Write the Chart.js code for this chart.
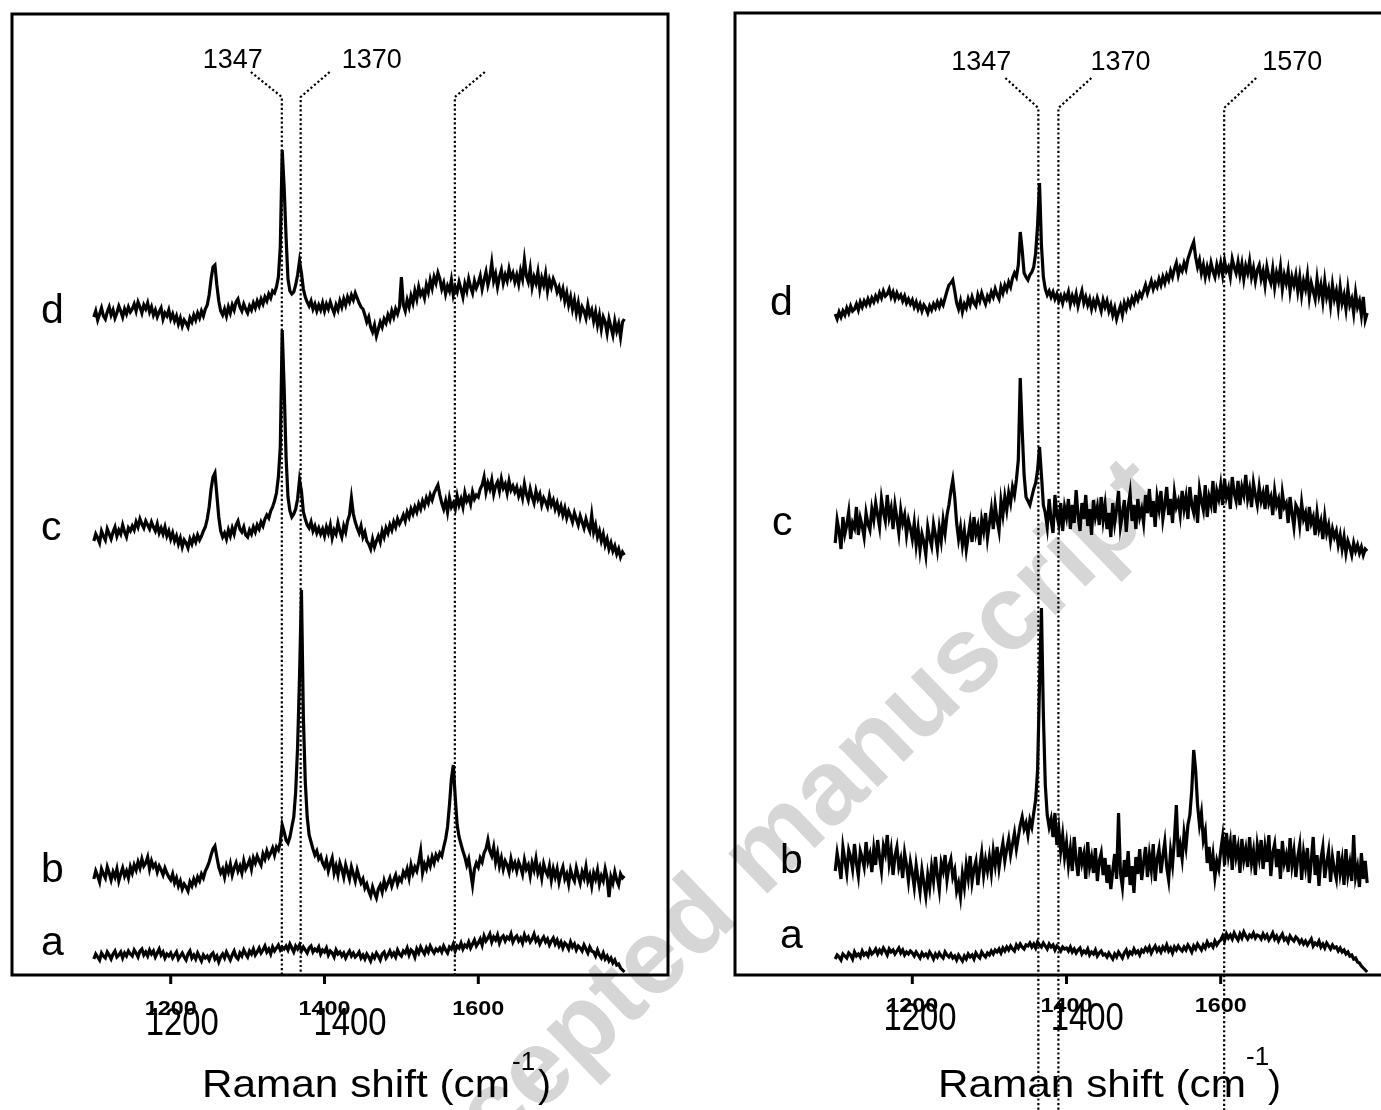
<!DOCTYPE html>
<html>
<head>
<meta charset="utf-8">
<script src="https://cdn.jsdelivr.net/npm/chart.js@4.4.1/dist/chart.umd.min.js"></script>
<style>
    body { margin: 0; background: #fff; overflow: hidden; }
    #wrap { position: relative; width: 1381px; height: 1110px; overflow: hidden; }
    #mark {
        position: absolute; left: 760px; top: 850px;
        transform: translate(-50%, -50%) rotate(-44deg);
        font: bold 106px "Liberation Sans", Arial, sans-serif;
        color: #d6d6d6; white-space: nowrap;
    }
    canvas { position: absolute; top: 0; }
</style>
</head>
<body>
<div id="wrap">
    <div id="mark">Accepted manuscript</div>
    <canvas id="leftChart" width="690" height="1110" style="left:0"></canvas>
    <canvas id="rightChart" width="700" height="1110" style="left:700px"></canvas>
</div>
<script>
// wavenumber grid (cm-1), one reading every 2.5 cm-1, rows below hold 50 cm-1 each
const shift = Array.from({ length: 277 }, (_, i) => 1100 + 2.5 * i);

// left panel, offset spectra (plot units)
const leftA = [
    18, 23, 20, 17, 24, 21, 19, 25, 22, 18, 23, 26, 20, 22, 25, 19, 24, 21, 26, 23,
    21, 27, 24, 20, 26, 28, 22, 25, 21, 27, 23, 26, 20, 24, 28, 22, 25, 19, 23, 21,
    24, 19, 22, 25, 18, 21, 24, 20, 17, 23, 26, 19, 22, 18, 24, 20, 16, 22, 19, 21,
    17, 22, 24, 18, 21, 15, 20, 23, 19, 25, 21, 17, 22, 26, 20, 18, 24, 21, 27, 23,
    20, 26, 23, 28, 22, 25, 29, 24, 27, 31, 25, 28, 23, 30, 26, 29, 32, 27, 30, 28,
    31, 27, 33, 29, 25, 31, 28, 32, 26, 30, 27, 24, 29, 31, 25, 28, 26, 30, 23, 27,
    25, 29, 22, 26, 24, 20, 27, 23, 25, 21, 24, 19, 23, 26, 21, 24, 20, 22, 25, 19,
    22, 18, 23, 20, 16, 22, 19, 24, 21, 17, 23, 25, 19, 22, 26, 21, 24, 20, 27, 23,
    21, 26, 24, 29, 22, 27, 25, 20, 28, 24, 30, 26, 23, 29, 25, 31, 27, 24, 28, 26,
    29, 25, 31, 27, 24, 30, 28, 33, 26, 31, 29, 34, 28, 32, 30, 35, 29, 33, 37, 31,
    34, 38, 32, 41, 36, 39, 43, 35, 40, 37, 42, 34, 39, 41, 36, 40, 38, 43, 35, 39,
    41, 36, 39, 34, 42, 37, 40, 35, 38, 43, 36, 39, 33, 37, 40, 35, 38, 32, 36, 39,
    33, 37, 31, 35, 29, 34, 32, 28, 35, 30, 33, 27, 31, 29, 26, 32, 28, 24, 30, 26,
    25, 21, 27, 22, 19, 24, 18, 21, 16, 19, 14, 17, 12, 13, 9, 7, 5];
const leftB = [
    98, 106, 101, 95, 108, 103, 99, 110, 104, 97, 105, 100, 108, 96, 103, 109, 101, 106, 99, 110,
    104, 112, 107, 115, 109, 118, 111, 114, 120, 108, 116, 110, 113, 105, 111, 107, 102, 109, 104, 100,
    97, 103, 94, 99, 91, 96, 88, 93, 90, 86, 95, 91, 98, 93, 100, 96, 103, 99, 106, 110,
    115, 122, 128, 131, 120, 110, 104, 108, 100, 111, 105, 113, 102, 109, 114, 106, 111, 104, 116, 108,
    112, 117, 108, 119, 114, 121, 116, 112, 123, 118, 126, 120, 124, 129, 122, 130, 127, 135, 152, 145,
    137, 134, 140, 150, 160, 185, 230, 300, 387, 260, 195, 160, 142, 135, 128, 122, 126, 118, 121, 114,
    110, 117, 106, 113, 119, 104, 111, 102, 114, 108, 100, 112, 105, 98, 110, 103, 96, 107, 100, 94,
    98, 89, 93, 86, 81, 90, 84, 79, 88, 92, 85, 96, 89, 94, 99, 91, 97, 102, 93, 99,
    96, 105, 101, 108, 99, 112, 104, 110, 106, 115, 126, 104, 113, 108, 117, 111, 120, 114, 122, 118,
    124, 121, 130, 138, 150, 172, 198, 212, 180, 152, 140, 133, 126, 120, 112, 118, 105, 92, 108, 114,
    110, 119, 115, 124, 128, 137, 126, 121, 130, 115, 124, 111, 119, 108, 116, 112, 105, 118, 109, 114,
    106, 115, 110, 103, 117, 108, 112, 101, 114, 107, 118, 104, 110, 99, 113, 106, 102, 111, 97, 108,
    100, 108, 95, 104, 110, 98, 103, 93, 107, 100, 96, 109, 101, 94, 105, 99, 110, 96, 102, 91,
    104, 98, 107, 93, 101, 96, 108, 99, 80, 100, 94, 105, 97, 92, 103, 99, 101];
const leftC = [
    436, 443, 439, 434, 446, 441, 437, 448, 443, 438, 445, 450, 441, 447, 443, 452, 445, 440, 449, 446,
    451, 447, 455, 450, 458, 453, 449, 456, 452, 448, 455, 450, 446, 453, 444, 449, 443, 450, 441, 446,
    438, 444, 436, 441, 433, 439, 430, 437, 434, 429, 438, 433, 440, 435, 442, 437, 441, 446, 450, 458,
    470, 488, 500, 504, 482, 460, 446, 440, 444, 438, 447, 441, 449, 443, 452, 456, 448, 445, 450, 442,
    440, 447, 443, 450, 445, 452, 448, 455, 451, 458, 462, 459, 466, 470, 476, 484, 500, 530, 647, 590,
    520, 480, 466, 460, 463, 468, 478, 497, 486, 465, 458, 452, 449, 455, 446, 451, 444, 449, 443, 448,
    441, 450, 444, 452, 439, 447, 443, 454, 446, 440, 451, 445, 456, 462, 479, 463, 455, 449, 444, 451,
    440, 445, 436, 433, 428, 438, 430, 436, 441, 435, 446, 440, 449, 444, 452, 447, 455, 450, 458, 453,
    457, 462, 456, 465, 460, 468, 463, 470, 465, 473, 468, 476, 471, 479, 474, 482, 477, 484, 488, 492,
    482, 474, 468, 476, 465, 479, 470, 474, 468, 481, 472, 478, 470, 484, 476, 480, 473, 485, 478, 482,
    480, 488, 492, 500, 485, 494, 488, 497, 483, 491, 495, 486, 498, 489, 493, 484, 496, 487, 491, 485,
    490, 481, 487, 479, 493, 483, 477, 488, 480, 474, 486, 478, 483, 472, 479, 475, 470, 481, 472, 477,
    468, 474, 465, 471, 462, 469, 459, 466, 461, 455, 464, 458, 452, 461, 455, 449, 458, 451, 446, 462,
    445, 452, 440, 446, 436, 443, 432, 438, 428, 434, 426, 431, 423, 428, 420, 425, 422];
const leftD = [
    660, 666, 657, 663, 669, 661, 658, 665, 670, 662, 667, 659, 664, 671, 666, 660, 668, 663, 670, 665,
    668, 673, 666, 675, 670, 664, 672, 668, 674, 665, 670, 662, 667, 660, 665, 669, 658, 664, 661, 667,
    658, 663, 656, 661, 653, 659, 651, 657, 654, 650, 659, 655, 662, 657, 664, 659, 666, 661, 668, 672,
    682, 698, 710, 712, 692, 676, 666, 662, 668, 661, 670, 664, 672, 667, 675, 678, 670, 666, 673, 668,
    664, 671, 667, 674, 669, 676, 671, 678, 673, 680, 676, 683, 679, 686, 684, 690, 700, 730, 827, 790,
    740, 698, 686, 683, 685, 692, 702, 716, 704, 688, 680, 675, 671, 676, 668, 673, 666, 672, 667, 674,
    666, 673, 668, 675, 669, 664, 672, 667, 676, 670, 678, 672, 680, 675, 682, 677, 684, 679, 674, 670,
    668, 662, 655, 660, 650, 645, 652, 641, 648, 655, 650, 658, 654, 662, 657, 666, 660, 668, 663, 670,
    700, 672, 666, 677, 670, 681, 674, 686, 678, 690, 682, 686, 679, 692, 685, 697, 689, 700, 694, 704,
    698, 688, 694, 683, 691, 686, 697, 682, 690, 685, 695, 688, 680, 693, 686, 698, 690, 684, 696, 689,
    694, 701, 688, 697, 705, 692, 700, 714, 696, 703, 690, 700, 707, 694, 702, 696, 708, 699, 704, 695,
    702, 693, 706, 698, 717, 701, 695, 708, 690, 700, 694, 705, 688, 699, 692, 703, 686, 697, 690, 698,
    693, 685, 690, 681, 688, 676, 684, 672, 680, 668, 677, 664, 674, 661, 670, 666, 659, 672, 662, 667,
    656, 665, 652, 662, 648, 660, 655, 644, 658, 650, 642, 656, 646, 653, 640, 655, 658];

// right panel, offset spectra (plot units)
const rightA = [
    16, 20, 18, 15, 21, 19, 17, 22, 20, 16, 23, 19, 21, 18, 24, 20, 22, 19, 25, 21,
    23, 26, 21, 25, 22, 27, 24, 20, 26, 23, 25, 21, 24, 27, 22, 25, 20, 23, 21, 24,
    22, 19, 23, 20, 17, 22, 19, 21, 18, 23, 20, 16, 21, 18, 22, 19, 17, 23, 20, 18,
    21, 17, 19, 15, 20, 17, 14, 19, 16, 21, 18, 20, 16, 22, 19, 17, 23, 20, 18, 22,
    20, 24, 21, 25, 23, 26, 22, 27, 24, 28, 25, 29, 26, 24, 30, 27, 31, 28, 26, 30,
    29, 32, 28, 31, 27, 33, 30, 28, 32, 29, 26, 31, 28, 30, 25, 29, 27, 24, 28, 26,
    27, 24, 28, 23, 26, 22, 25, 27, 21, 24, 22, 26, 20, 23, 21, 25, 19, 22, 24, 20,
    21, 18, 22, 19, 16, 21, 18, 23, 20, 17, 22, 25, 19, 23, 21, 26, 22, 24, 20, 25,
    23, 27, 24, 28, 22, 26, 29, 24, 27, 23, 28, 25, 30, 24, 27, 22, 28, 25, 29, 26,
    24, 28, 25, 30, 27, 23, 29, 26, 31, 28, 25, 30, 27, 33, 29, 31, 28, 34, 30, 33,
    35, 39, 34, 41, 37, 40, 36, 42, 38, 35, 41, 37, 43, 39, 36, 40, 38, 42, 37, 40,
    39, 36, 41, 37, 40, 35, 38, 42, 36, 39, 34, 38, 41, 35, 37, 33, 39, 36, 34, 38,
    36, 32, 35, 31, 34, 30, 33, 36, 29, 32, 30, 34, 28, 31, 27, 32, 29, 26, 30, 27,
    28, 24, 27, 23, 25, 21, 23, 19, 20, 16, 17, 13, 12, 9, 7, 5, 3];
const rightB = [
    104, 122, 110, 96, 128, 115, 102, 125, 118, 106, 131, 112, 99, 124, 117, 108, 133, 114, 121, 103,
    126, 110, 135, 118, 104, 129, 121, 140, 112, 125, 100, 119, 128, 108, 116, 97, 122, 110, 94, 113,
    102, 88, 110, 96, 83, 105, 92, 79, 100, 87, 108, 94, 118, 99, 85, 112, 104, 120, 95, 109,
    116, 98, 105, 84, 92, 78, 101, 88, 110, 97, 119, 93, 106, 114, 90, 108, 122, 100, 115, 104,
    118, 102, 124, 110, 128, 107, 121, 132, 114, 126, 136, 120, 131, 142, 126, 138, 150, 158, 146, 152,
    140, 155, 148, 162, 175, 205, 290, 367, 260, 190, 160, 148, 156, 138, 162, 130, 146, 124, 140, 118,
    132, 110, 126, 104, 138, 115, 99, 128, 112, 121, 96, 133, 108, 118, 102, 127, 94, 114, 122, 100,
    117, 92, 110, 86, 104, 121, 96, 162, 102, 88, 115, 98, 124, 90, 109, 82, 118, 101, 126, 95,
    112, 128, 98, 120, 105, 131, 94, 116, 126, 102, 119, 133, 108, 95, 124, 110, 136, 170, 118, 130,
    116, 142, 128, 150, 160, 185, 225, 205, 170, 150, 162, 135, 144, 112, 128, 104, 120, 98, 114, 106,
    124, 138, 110, 142, 120, 133, 105, 140, 118, 128, 102, 136, 115, 126, 108, 138, 112, 124, 100, 130,
    117, 135, 106, 128, 113, 140, 99, 122, 131, 108, 126, 96, 134, 112, 120, 103, 137, 110, 124, 98,
    118, 130, 95, 122, 108, 127, 92, 114, 138, 100, 120, 89, 116, 128, 97, 112, 124, 93, 118, 105,
    96, 124, 102, 115, 90, 126, 100, 112, 94, 140, 98, 108, 88, 122, 96, 114, 92];
const rightC = [
    432, 455, 444, 426, 458, 441, 450, 463, 436, 452, 447, 468, 440, 457, 449, 438, 462, 451, 445, 466,
    455, 472, 460, 448, 476, 463, 454, 480, 458, 467, 446, 470, 457, 442, 465, 452, 460, 440, 455, 447,
    436, 452, 430, 446, 425, 441, 433, 420, 448, 437, 429, 451, 440, 426, 447, 434, 455, 442, 460, 470,
    484, 495, 478, 452, 436, 448, 430, 444, 425, 439, 452, 433, 458, 441, 449, 430, 455, 444, 462, 437,
    452, 466, 446, 470, 455, 444, 474, 460, 478, 465, 482, 472, 488, 480, 495, 515, 597, 545, 500, 478,
    474, 470, 478, 486, 492, 505, 528, 500, 470, 462, 448, 476, 455, 442, 480, 460, 450, 472, 444, 468,
    458, 476, 446, 470, 452, 485, 460, 444, 472, 456, 480, 449, 466, 440, 475, 458, 468, 450, 478, 455,
    470, 446, 462, 438, 472, 452, 466, 484, 448, 460, 475, 443, 468, 482, 454, 470, 446, 476, 458, 466,
    452, 480, 462, 486, 458, 474, 448, 478, 466, 484, 456, 470, 488, 460, 476, 452, 482, 468, 474, 460,
    484, 466, 478, 456, 488, 470, 462, 480, 452, 486, 474, 465, 490, 458, 478, 470, 494, 462, 484, 476,
    490, 470, 496, 478, 486, 466, 498, 482, 474, 494, 470, 488, 480, 500, 476, 486, 468, 492, 480, 470,
    488, 474, 482, 466, 490, 472, 478, 460, 484, 470, 476, 456, 482, 468, 472, 452, 478, 462, 448, 470,
    466, 450, 472, 456, 462, 444, 468, 452, 458, 440, 462, 446, 454, 436, 458, 442, 450, 434, 446, 438,
    444, 430, 440, 426, 438, 422, 434, 428, 420, 432, 424, 430, 422, 428, 420, 426, 424];
const rightD = [
    661, 656, 663, 658, 664, 660, 667, 662, 669, 664, 666, 671, 665, 673, 668, 674, 670, 676, 671, 677,
    673, 679, 675, 682, 677, 684, 679, 681, 686, 678, 683, 676, 682, 677, 680, 674, 679, 672, 676, 671,
    675, 668, 673, 666, 671, 664, 670, 667, 662, 669, 665, 671, 667, 673, 668, 674, 670, 677, 684, 690,
    692, 695, 684, 672, 666, 674, 663, 671, 667, 676, 670, 678, 672, 669, 680, 674, 682, 676, 671, 679,
    675, 683, 678, 686, 680, 676, 688, 682, 690, 685, 693, 688, 697, 702, 698, 710, 743, 725, 702, 698,
    695, 700, 703, 708, 722, 750, 792, 730, 698, 686, 680, 684, 678, 683, 676, 681, 674, 679, 672, 680,
    676, 683, 671, 679, 673, 681, 669, 677, 684, 672, 678, 670, 676, 666, 674, 668, 677, 671, 664, 675,
    668, 674, 664, 670, 660, 667, 656, 663, 669, 660, 672, 666, 674, 669, 677, 672, 680, 675, 682, 678,
    684, 690, 682, 688, 694, 686, 692, 688, 696, 690, 698, 692, 700, 695, 704, 698, 706, 712, 700, 708,
    704, 712, 706, 716, 722, 728, 733, 718, 708, 715, 702, 710, 698, 708, 700, 712, 704, 698, 710, 702,
    712, 700, 714, 704, 708, 698, 716, 708, 702, 713, 700, 711, 696, 709, 702, 714, 698, 707, 694, 705,
    710, 696, 704, 690, 708, 698, 692, 706, 688, 702, 694, 708, 686, 700, 692, 704, 684, 698, 690, 700,
    684, 698, 680, 694, 686, 700, 678, 692, 684, 676, 696, 680, 690, 674, 694, 678, 686, 670, 690, 676,
    684, 668, 688, 672, 680, 666, 686, 670, 676, 662, 682, 668, 674, 660, 678, 655, 662];

const traceNames = ['a', 'b', 'c', 'd'];
const tickValues = [1200, 1400, 1600];
const bigTickText = ['1200', '1400'];
const leftBigTickPos = [1215, 1433];
const rightBigTickPos = [1210, 1427];
const leftMarks = [1344.5, 1369, 1569.5];
const leftMarkText = ['1347', '1370', ''];
const rightMarks = [1363.5, 1389.5, 1604.5];
const rightMarkText = ['1347', '1370', '1570'];

const FONT = '"Liberation Sans", Arial, sans-serif';

// draw text, optionally stretched to a given width
function fitText(ctx, text, x, y, size, width, bold, align) {
    ctx.save();
    ctx.font = (bold ? 'bold ' : '') + size + 'px ' + FONT;
    const w = ctx.measureText(text).width;
    ctx.translate(x, y);
    ctx.scale(width ? width / w : 1, 1);
    ctx.textAlign = align || 'center';
    ctx.textBaseline = 'alphabetic';
    ctx.fillStyle = '#000';
    ctx.fillText(text, 0, 0);
    ctx.restore();
}

// frame, ticks, peak markers and all text of one panel
function decorPlugin(look) {
    return {
        id: 'decor',
        afterDatasetsDraw(chart) {
            const ctx = chart.ctx;
            const a = chart.chartArea;
            const xs = chart.scales.x;
            const ys = chart.scales.y;

            ctx.save();
            ctx.strokeStyle = '#000';
            ctx.lineWidth = 3;
            ctx.strokeRect(a.left, a.top, a.right - a.left, a.bottom - a.top);

            // tick marks and labels
            tickValues.forEach(v => {
                const px = xs.getPixelForValue(v);
                ctx.beginPath();
                ctx.moveTo(px, a.bottom);
                ctx.lineTo(px, a.bottom + 9);
                ctx.stroke();
                fitText(ctx, String(v), px, look.tickY, 20, 52, true);
            });
            look.bigPos.forEach((v, i) => {
                fitText(ctx, bigTickText[i], xs.getPixelForValue(v), look.bigY, 38, 73, false);
            });

            // axis title with superscript
            fitText(ctx, 'Raman shift (cm', look.titleX, 1097, 39, 308, false, 'left');
            fitText(ctx, '-1', look.supX, look.supY, 26, 0, false, 'left');
            fitText(ctx, ')', look.parenX, 1097, 39, 0, false, 'left');

            // dotted peak markers
            ctx.lineWidth = 2.2;
            ctx.setLineDash([2.2, 2.4]);
            look.marks.forEach((v, i) => {
                const px = xs.getPixelForValue(v);
                ctx.beginPath();
                ctx.moveTo(look.lean[i] + px, look.markTop - look.rise);
                ctx.lineTo(px, look.markTop);
                ctx.lineTo(px, look.markBottom || a.bottom);
                ctx.stroke();
                if (look.markText[i]) {
                    fitText(ctx, look.markText[i], px + look.labelDx[i], look.labelY, 27, 60, false);
                }
            });
            ctx.setLineDash([]);

            // trace letters
            traceNames.forEach((t, i) => {
                fitText(ctx, t, look.letterX[i], ys.getPixelForValue(look.letterLevel[i]), 41, 0, false, 'left');
            });
            ctx.restore();
        }
    };
}

function makePanel(id, traces, xMin, xMax, yMin, yMax, padding, look) {
    new Chart(document.getElementById(id), {
        type: 'line',
        data: {
            datasets: traces.map((arr, i) => ({
                label: traceNames[i],
                data: shift.map((x, j) => ({ x: x, y: arr[j] })),
                borderColor: '#000',
                borderWidth: 3.2,
                pointRadius: 0,
                tension: 0,
                fill: false
            }))
        },
        options: {
            responsive: false,
            animation: false,
            events: [],
            layout: { padding: padding },
            plugins: { legend: { display: false }, tooltip: { enabled: false } },
            scales: {
                x: { type: 'linear', min: xMin, max: xMax, display: false },
                y: { min: yMin, max: yMax, display: false }
            }
        },
        plugins: [decorPlugin(look)]
    });
}

makePanel('leftChart', [leftA, leftB, leftC, leftD], 993.6, 1846.7, 2, 963,
    { left: 12, right: 22, top: 14, bottom: 135 },
    {
        tickY: 1015, bigY: 1035, bigPos: leftBigTickPos,
        titleX: 202, supX: 512, supY: 1070, parenX: 538,
        marks: leftMarks, markText: leftMarkText,
        markTop: 97, rise: 25, lean: [-31, 29, 30], labelDx: [-49, 71, 0], labelY: 68,
        letterX: [41, 41, 41, 41], letterLevel: [22, 95, 437, 654]
    });

makePanel('rightChart', [rightA, rightB, rightC, rightD], 970, 1832.6, 0, 962,
    { left: 35, right: 0, top: 13, bottom: 135 },
    {
        tickY: 1012, bigY: 1030, bigPos: rightBigTickPos,
        titleX: 238, supX: 546, supY: 1065, parenX: 568,
        marks: rightMarks, markText: rightMarkText, markBottom: 1110,
        markTop: 108, rise: 30, lean: [-33, 33, 32], labelDx: [-57, 62, 68], labelY: 70,
        letterX: [80, 80, 72, 70], letterLevel: [27, 102, 440, 660]
    });
</script>
</body>
</html>
